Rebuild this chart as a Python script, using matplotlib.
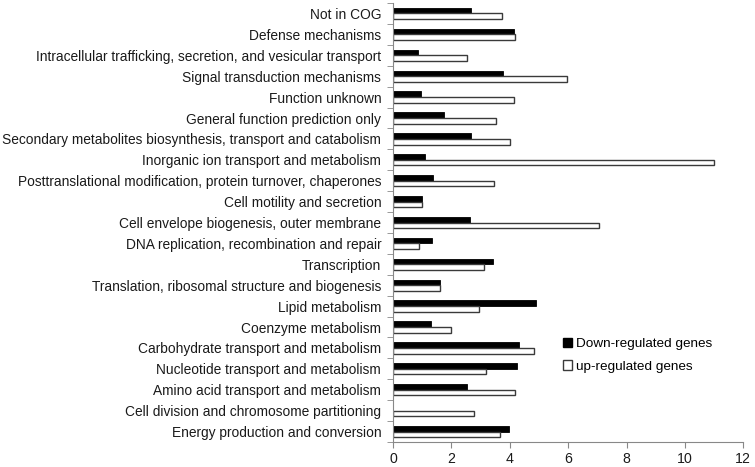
import numpy as np
import matplotlib.pyplot as plt
import matplotlib.patches as mpatches

plt.rcParams['font.family'] = ['Liberation Sans', 'DejaVu Sans']

categories = [
    'Not in COG',
    'Defense mechanisms',
    'Intracellular trafficking, secretion, and vesicular transport',
    'Signal transduction mechanisms',
    'Function unknown',
    'General function prediction only',
    'Secondary metabolites biosynthesis, transport and catabolism',
    'Inorganic ion transport and metabolism',
    'Posttranslational modification, protein turnover, chaperones',
    'Cell motility and secretion',
    'Cell envelope biogenesis, outer membrane',
    'DNA replication, recombination and repair',
    'Transcription',
    'Translation, ribosomal structure and biogenesis',
    'Lipid metabolism',
    'Coenzyme metabolism',
    'Carbohydrate transport and metabolism',
    'Nucleotide transport and metabolism',
    'Amino acid transport and metabolism',
    'Cell division and chromosome partitioning',
    'Energy production and conversion',
]
down_vals = [2.67, 4.16, 0.85, 3.78, 0.95, 1.76, 2.66, 1.10, 1.37, 0.99, 2.64,
             1.33, 3.41, 1.60, 4.89, 1.30, 4.31, 4.24, 2.55, 0.0, 3.99]
up_vals = [3.75, 4.17, 2.55, 5.95, 4.13, 3.53, 4.00, 11.0, 3.45, 1.00, 7.05,
           0.89, 3.11, 1.61, 2.95, 1.98, 4.83, 3.19, 4.19, 2.78, 3.67]
x_ticks = [0, 2, 4, 6, 8, 10, 12]

fig = plt.figure(figsize=(7.55, 4.67), dpi=100)
ax = fig.add_axes([0.5205, 0.0535, 0.464, 0.940])

y = np.arange(len(categories))
h = 0.27
ax.barh(y - h / 2, down_vals, height=h, color='black', edgecolor='black', linewidth=0.6)
ax.barh(y + h / 2, up_vals, height=h, color='white', edgecolor='#3a3a3a', linewidth=1.0)

ax.set_ylim(len(categories) - 0.5, -0.5)
ax.set_xlim(0, 12)
ax.set_xticks(x_ticks)
ax.set_yticks(y)
ax.set_yticklabels(categories)
ax.set_yticks(np.arange(len(categories) + 1) - 0.5, minor=True)
ax.tick_params(axis='y', which='major', length=0, pad=8.5, labelsize=9.9, labelcolor='#1a1a1a')
ax.tick_params(axis='y', which='minor', length=4, color='#888888', direction='out')
ax.tick_params(axis='x', length=4, color='#888888', labelsize=10.2, labelcolor='#1a1a1a', pad=3)

for s in ['top', 'right']:
    ax.spines[s].set_visible(False)
for s in ['left', 'bottom']:
    ax.spines[s].set_color('#888888')
    ax.spines[s].set_linewidth(0.8)

black_patch = mpatches.Patch(facecolor='black', edgecolor='black', label='Down-regulated genes')
white_patch = mpatches.Patch(facecolor='white', edgecolor='#3a3a3a', label='up-regulated genes')
ax.legend(handles=[black_patch, white_patch], loc='upper left', bbox_to_anchor=(0.45, 0.265),
          frameon=False, fontsize=9.7, handlelength=0.7, handleheight=0.7,
          handletextpad=0.25, labelspacing=0.75)

fig.savefig('out.png', dpi=100)
